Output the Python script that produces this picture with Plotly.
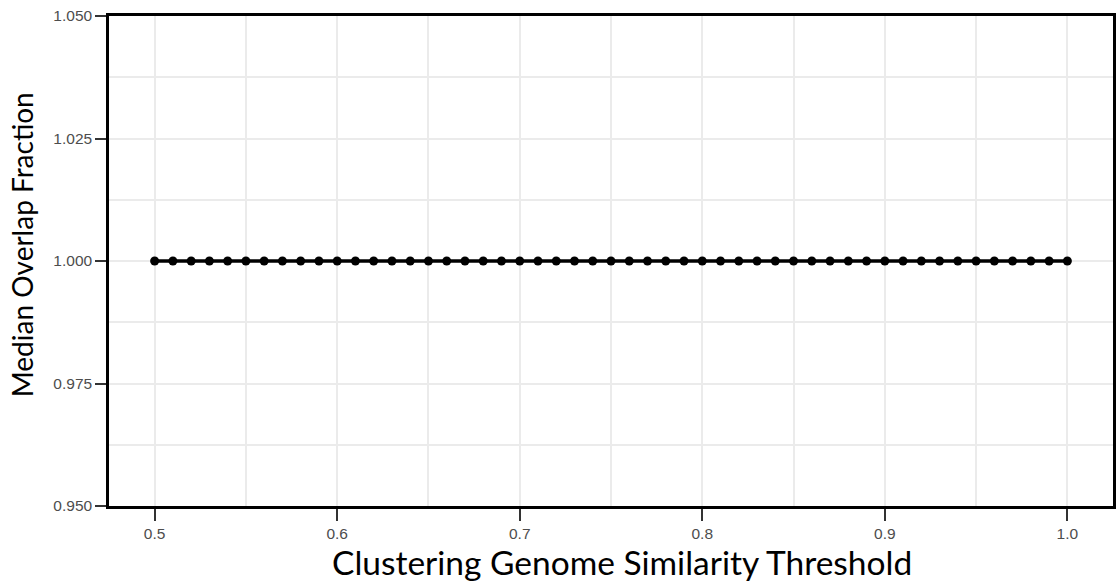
import plotly.graph_objects as go

# Similarity thresholds used for clustering, step 0.01
thresholds = [round(0.50 + 0.01 * i, 2) for i in range(51)]
# Median overlap fraction at each threshold
median_overlap = [1.0] * 51

x_ticks = [0.5, 0.6, 0.7, 0.8, 0.9, 1.0]
x_tick_labels = ["0.5", "0.6", "0.7", "0.8", "0.9", "1.0"]
y_ticks = [0.950, 0.975, 1.000, 1.025, 1.050]
y_tick_labels = ["0.950", "0.975", "1.000", "1.025", "1.050"]

x_title = "Clustering Genome Similarity Threshold"
y_title = "Median Overlap Fraction"

fig = go.Figure()
fig.add_trace(go.Scatter(
    x=thresholds,
    y=median_overlap,
    mode="lines+markers",
    line=dict(color="black", width=3.5),
    marker=dict(color="black", size=9),
    showlegend=False,
))

axis_common = dict(
    showline=True,
    linecolor="black",
    linewidth=2.5,
    mirror=True,
    ticks="outside",
    tickcolor="#333333",
    tickwidth=2,
    tickfont=dict(family="Liberation Sans", size=15.5, color="#4d4d4d"),
    showgrid=True,
    gridcolor="#ebebeb",
    gridwidth=2,
    zeroline=False,
    minor=dict(showgrid=True, gridcolor="#ebebeb", gridwidth=2, ticks=""),
)

fig.update_xaxes(
    range=[0.475, 1.025],
    tickvals=x_ticks,
    ticktext=x_tick_labels,
    ticklen=12,
    minor_dtick=0.05,
    minor_tick0=0.45,
    **axis_common,
)
fig.update_yaxes(
    range=[0.95, 1.05],
    tickvals=y_ticks,
    ticktext=y_tick_labels,
    ticklen=11,
    minor_dtick=0.0125,
    minor_tick0=0.9375,
    **axis_common,
)

# Axis titles placed as paper-anchored annotations
fig.add_annotation(
    text=x_title, xref="paper", yref="paper",
    x=0.5114, y=-0.1143, xanchor="center", yanchor="middle",
    showarrow=False, font=dict(family="Lato", size=33.5, color="black"),
)
fig.add_annotation(
    text=y_title, xref="paper", yref="paper",
    x=-0.0864, y=0.5327, xanchor="center", yanchor="middle", textangle=-90,
    showarrow=False, font=dict(family="Lato", size=28, color="black"),
)

fig.update_layout(
    width=1117,
    height=585,
    margin=dict(l=109, r=1, t=16, b=79),
    plot_bgcolor="white",
    paper_bgcolor="white",
)

fig.write_html("out.html")
